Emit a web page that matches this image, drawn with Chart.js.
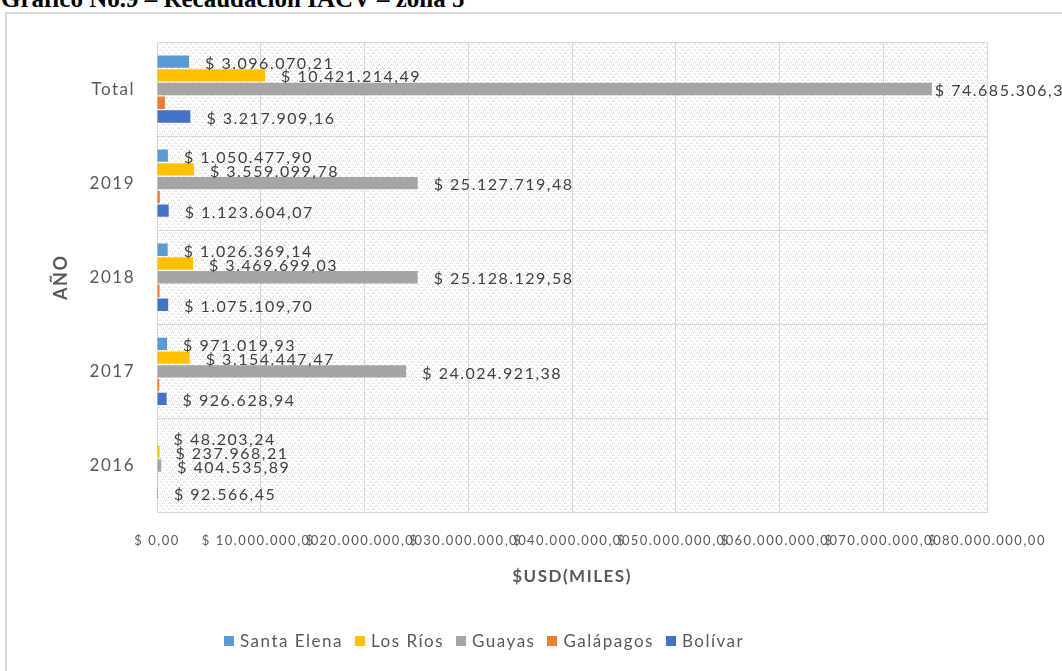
<!DOCTYPE html>
<html><head><meta charset="utf-8">
<script src="https://cdn.jsdelivr.net/npm/chart.js@4/dist/chart.umd.min.js"></script>
<style>
html,body{margin:0;padding:0;background:#fff;width:1062px;height:671px;overflow:hidden;position:relative;}
#title{position:absolute;left:1px;top:-14px;font:bold 25px "Liberation Serif","Times New Roman",serif;line-height:25px;color:#000;white-space:nowrap;}
#frame{position:absolute;left:5px;top:12px;width:1100px;height:700px;border:2px solid #d9d9d9;box-sizing:border-box;}
#wrap{position:absolute;left:0;top:0;width:1062px;height:671px;}
#legend{position:absolute;left:224px;top:630px;display:flex;align-items:center;font:17px Lato,sans-serif;letter-spacing:1.5px;color:#595959;white-space:nowrap;}
#legend .it{display:flex;align-items:center;margin-right:12px;}
#legend .sw{width:10px;height:10px;margin-right:6px;}
</style></head>
<body>
<div id="title">Gráfico No.9 – Recaudación IACV – zona 5</div>
<div id="frame"></div>
<div id="wrap"><canvas id="c" width="1062" height="671"></canvas></div>
<div id="legend"></div>
<script>
const categories = ['Total', '2019', '2018', '2017', '2016'];
const santaElena = [3096070.21, 1050477.90, 1026369.14, 971019.93, 48203.24];
const losRios    = [10421214.49, 3559099.78, 3469699.03, 3154447.47, 237968.21];
const guayas     = [74685306.33, 25127719.48, 25128129.58, 24024921.38, 404535.89];
const galapagos  = [760000, 275000, 245000, 215000, 25000];
const bolivar    = [3217909.16, 1123604.07, 1075109.70, 926628.94, 92566.45];
const xTicks = [0, 10000000, 20000000, 30000000, 40000000, 50000000, 60000000, 70000000, 80000000];

function fmt(v){
  const parts = v.toFixed(2).split('.');
  const int = parts[0].replace(/\B(?=(\d{3})+(?!\d))/g, '.');
  return '$ ' + int + ',' + parts[1];
}

const series = [
  {label:'Santa Elena', data:santaElena, color:'#5B9BD5', showLabel:true},
  {label:'Los Ríos', data:losRios, color:'#FFC000', showLabel:true},
  {label:'Guayas', data:guayas, color:'#A5A5A5', showLabel:true},
  {label:'Galápagos', data:galapagos, color:'#ED7D31', showLabel:false},
  {label:'Bolívar', data:bolivar, color:'#4472C4', showLabel:true}
];

function makePattern(ctx){
  const t = document.createElement('canvas');
  t.width = 6; t.height = 6;
  const g = t.getContext('2d');
  g.fillStyle = '#ffffff'; g.fillRect(0,0,6,6);
  g.fillStyle = '#dcdcdc';
  const pts = [[0,5],[1,4],[3,2],[4,1],[2,5],[5,2]];
  pts.forEach(p => g.fillRect(p[0], p[1], 1, 1));
  return ctx.createPattern(t, 'repeat');
}

const spacing = {
  id:'spacing',
  beforeUpdate(chart){ chart.ctx.letterSpacing = '1.5px'; },
  beforeDraw(chart){
    const ctx = chart.ctx;
    ctx.letterSpacing = '1.5px';
    const a = chart.chartArea;
    ctx.save();
    ctx.fillStyle = makePattern(ctx);
    ctx.fillRect(a.left, a.top, a.right - a.left, a.bottom - a.top);
    ctx.restore();
  }
};

const dataLabels = {
  id:'dataLabels',
  afterDatasetsDraw(chart){
    const ctx = chart.ctx;
    ctx.save();
    ctx.letterSpacing = '1.5px';
    ctx.font = '16px Lato, sans-serif';
    ctx.fillStyle = '#404040';
    ctx.textBaseline = 'middle';
    ctx.textAlign = 'left';
    chart.data.datasets.forEach((ds, i) => {
      if (!series[i].showLabel) return;
      chart.getDatasetMeta(i).data.forEach((el, j) => {
        const txt = fmt(ds.data[j]);
        const w = ctx.measureText(txt).width;
        let x = el.x + 16;
        if (x + w > 1055) x = el.x + 3;
        ctx.fillText(txt, x, el.y + 2);
      });
    });
    ctx.restore();
  }
};

const chart = new Chart(document.getElementById('c'), {
  type:'bar',
  data:{
    labels: categories,
    datasets: series.map(s => ({
      label: s.label, data: s.data, backgroundColor: s.color, borderWidth: 0,
      categoryPercentage: 0.73, barPercentage: 0.9
    }))
  },
  options:{
    indexAxis:'y',
    responsive:false,
    animation:false,
    layout:{padding:{left:50, right:75, top:42, bottom:78.5}},
    plugins:{legend:{display:false}, tooltip:{enabled:false}},
    scales:{
      x:{
        min:0, max:80000000,
        afterBuildTicks(s){ s.ticks = xTicks.map(v => ({value:v})); },
        afterFit(s){ s.height = 80; s.paddingLeft = 0; s.paddingRight = 0; },
        grid:{color:'#d9d9d9', drawTicks:false, lineWidth:1},
        border:{color:'#d9d9d9'},
        ticks:{autoSkip:false, maxRotation:0, minRotation:0, padding:21, color:'#595959',
               font:{family:'Lato, sans-serif', size:13},
               callback:(v) => fmt(v)},
        title:{display:true, text:'$USD(MILES)', color:'#595959',
               font:{family:'Lato, sans-serif', size:17, weight:'bold'}, padding:{top:0,bottom:6}}
      },
      y:{
        afterFit(s){ s.width = 107; s.paddingTop = 0; s.paddingBottom = 0; },
        grid:{color:'#d9d9d9', drawTicks:false, offset:true},
        border:{color:'#d9d9d9'},
        ticks:{padding:22, color:'#595959', font:{family:'Lato, sans-serif', size:17}},
        title:{display:true, text:'AÑO', color:'#595959',
               font:{family:'Lato, sans-serif', size:18, weight:'bold'}, padding:{top:0,bottom:0}}
      }
    }
  },
  plugins:[spacing, dataLabels]
});

const lg = document.getElementById('legend');
chart.data.datasets.forEach(ds => {
  const it = document.createElement('div'); it.className = 'it';
  const sw = document.createElement('div'); sw.className = 'sw'; sw.style.background = ds.backgroundColor;
  const tx = document.createElement('span'); tx.textContent = ds.label;
  it.appendChild(sw); it.appendChild(tx); lg.appendChild(it);
});
</script>
</body></html>
